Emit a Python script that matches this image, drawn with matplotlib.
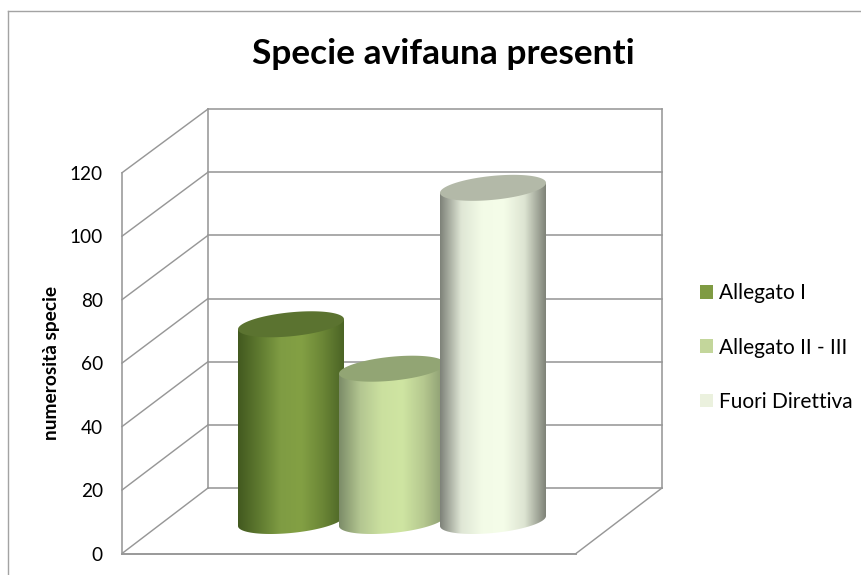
import numpy as np
from matplotlib import pyplot as plt
from matplotlib.colors import LinearSegmentedColormap
from matplotlib.patches import Patch, PathPatch, Polygon
from matplotlib.path import Path

categories = ['Allegato I', 'Allegato II - III', 'Fuori Direttiva']
values = [62, 48, 105]
y_ticks = [0, 20, 40, 60, 80, 100, 120]
title = 'Specie avifauna presenti'
y_label = 'numerosità specie'

legend_colors = ['#7f9b42', '#c3d69b', '#ebf1de']
top_colors = ['#5b7330', '#92a574', '#b3b9a8']
side_colors = [
    ['#42591f', '#5f7a30', '#7f9c43', '#83a044', '#6b8636', '#4b6425'],
    ['#7c8c68', '#b3c691', '#cbe09f', '#cfe5a2', '#b5c88f', '#8a9a70'],
    ['#7e8279', '#dfe6d5', '#f3fbe7', '#f5fde9', '#dde4d2', '#7f8378'],
]

plt.rcParams['font.family'] = ['Lato', 'DejaVu Sans']
W, H = 862, 575
fig = plt.figure(figsize=(W / 100, H / 100), dpi=100)
ax = fig.add_axes([0, 0, 1, 1])

# one x unit = one category step, y axis is in the chart's own units
px_x = 101.0
px_y = 3.173
zero_x = 291.0
zero_y = 553.5


def to_x(px):
    return (px - zero_x) / px_x


def to_y(px):
    return (zero_y - px) / px_y


x_limits = (to_x(0), to_x(W))
y_limits = (to_y(H), to_y(0))

grid = '#979797'
lw = 1.15

# outer frame of the chart area
ax.plot([to_x(8), to_x(8)], [to_y(H), to_y(11)], color='#a3a3a3', lw=1.0)
ax.plot([to_x(8), to_x(W)], [to_y(11), to_y(11)], color='#a3a3a3', lw=1.0)

# walls
front_l, front_r = to_x(122), to_x(576)
back_l, back_r = to_x(208), to_x(662)


def back_y(v):
    return to_y(488) + v * (488 - 109) / 380.8


for t in y_ticks:
    ax.plot([front_l, back_l], [t, back_y(t)], color=grid, lw=lw * 0.9)
    ax.plot([back_l, back_r], [back_y(t), back_y(t)], color=grid, lw=lw)
    ax.text(to_x(103), t - 0.5, str(t), ha='right', va='center', fontsize=13.7, color='black')
ax.plot([front_l, front_l], [0, 120], color=grid, lw=lw)
ax.plot([back_l, back_l], [back_y(0), back_y(120)], color=grid, lw=lw)
ax.plot([back_r, back_r], [back_y(0), back_y(120)], color=grid, lw=lw)
ax.plot([front_l, front_r], [0, 0], color=grid, lw=lw * 1.2)
ax.plot([front_r, back_r], [0, back_y(0)], color=grid, lw=lw * 0.9)

# cylinders
half_w = 53.0
minor = 12.0
tilt = 5.0
base = to_y(521)
t_low = np.linspace(np.pi, 2 * np.pi, 60)
t_all = np.linspace(0, 2 * np.pi, 120)

for i in range(len(values)):
    v = values[i]
    ex_low = i + half_w * np.cos(t_low) / px_x
    ey_low = base + (minor * np.sin(t_low) + tilt * np.cos(t_low)) / px_y
    ex_up = ex_low[::-1]
    ey_up = base + v + (tilt * np.cos(t_low[::-1])) / px_y
    body = np.column_stack([np.r_[ex_low, ex_up], np.r_[ey_low, ey_up]])
    clip = PathPatch(Path(body, closed=False), transform=ax.transData, fc='none', ec='none')
    ax.add_patch(clip)
    cmap = LinearSegmentedColormap.from_list('side%d' % i, side_colors[i])
    img = ax.imshow(np.linspace(0, 1, 256).reshape(1, -1), cmap=cmap, aspect='auto',
                    extent=(i - half_w / px_x, i + half_w / px_x, base - 20, base + v + 20),
                    zorder=3 + i, interpolation='bilinear')
    img.set_clip_path(clip)
    top_x = i + half_w * np.cos(t_all) / px_x
    top_y = base + v + (minor * np.sin(t_all) + tilt * np.cos(t_all)) / px_y
    ax.add_patch(Polygon(np.column_stack([top_x, top_y]), fc=top_colors[i], ec='none', zorder=3 + i))

ax.text(to_x(443), to_y(54), title, ha='center', va='center', fontsize=25.4, fontweight='bold', color='black')
ax.text(to_x(52), to_y(363), y_label, rotation=90, ha='center', va='center', fontsize=13.8,
        fontweight='bold', color='black')

handles = [Patch(fc=c, ec='none', label=n) for c, n in zip(legend_colors, categories)]
ax.legend(handles=handles, loc='center left', bbox_to_anchor=(700 / W, 1 - 347.5 / H), frameon=False,
          fontsize=15, handlelength=0.62, handleheight=0.62, handletextpad=0.3,
          labelspacing=1.65, borderpad=0, borderaxespad=0, labelcolor='black')

ax.set_xlim(x_limits)
ax.set_ylim(y_limits)
ax.axis('off')
fig.savefig('out.png', dpi=100)
